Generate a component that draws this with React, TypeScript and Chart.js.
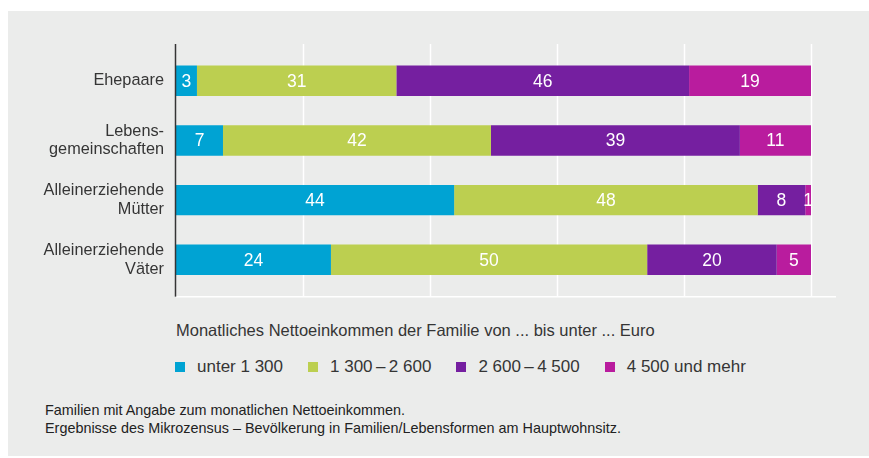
import React, { useEffect, useRef } from "react";
import { Chart, registerables } from "chart.js";

Chart.register(...registerables);

const categories: (string | string[])[] = [
  "Ehepaare",
  ["Lebens-", "gemeinschaften"],
  ["Alleinerziehende", "Mütter"],
  ["Alleinerziehende", "Väter"],
];

const seriesNames = ["unter 1 300", "1 300\u2009\u2013\u20092 600", "2 600\u2009\u2013\u20094 500", "4 500 und mehr"];
const seriesColors = ["#00a3d3", "#bccf50", "#751fa0", "#b91c9e"];

const under1300 = [3.3, 7.4, 43.8, 24.4];
const from1300to2600 = [31.4, 42.2, 47.8, 49.8];
const from2600to4500 = [46.1, 39.2, 7.5, 20.4];
const over4500 = [19.2, 11.2, 0.9, 5.4];

const xTicks = [0, 20, 40, 60, 80, 100];

const legendTitle = "Monatliches Nettoeinkommen der Familie von ... bis unter ... Euro";
const footnotes = [
  "Familien mit Angabe zum monatlichen Nettoeinkommen.",
  "Ergebnisse des Mikrozensus \u2013 Bevölkerung in Familien/Lebensformen am Hauptwohnsitz.",
];

const FONT = "'Liberation Sans', Arial, Helvetica, sans-serif";
const TEXT = "#353535";
const BG = "#ebeceb";

const framePlugin = {
  id: "frame",
  beforeDatasetsDraw(chart: any) {
    const { ctx, chartArea } = chart;
    const xs = chart.scales.x;
    const ext = 7;
    ctx.save();
    ctx.strokeStyle = "#ffffff";
    ctx.lineWidth = 1.5;
    xTicks.forEach((t) => {
      if (t === 0) return;
      const px = Math.round(xs.getPixelForValue(t)) + 0.5;
      ctx.beginPath();
      ctx.moveTo(px, chartArea.top - ext);
      ctx.lineTo(px, chartArea.bottom + ext);
      ctx.stroke();
    });
    ctx.beginPath();
    ctx.moveTo(chartArea.left, chartArea.bottom + ext);
    ctx.lineTo(chartArea.right + 25, chartArea.bottom + ext);
    ctx.stroke();
    ctx.restore();
  },
  afterDatasetsDraw(chart: any) {
    const { ctx, chartArea } = chart;
    const ext = 7;
    ctx.save();
    ctx.font = `17.5px ${FONT}`;
    ctx.fillStyle = "#ffffff";
    ctx.textAlign = "center";
    ctx.textBaseline = "middle";
    chart.data.datasets.forEach((ds: any, di: number) => {
      const meta = chart.getDatasetMeta(di);
      meta.data.forEach((bar: any, i: number) => {
        const v = ds.data[i];
        const cx = (bar.x + bar.base) / 2;
        ctx.fillText(String(Math.round(v)), cx, bar.y + 1);
      });
    });
    ctx.strokeStyle = "#353535";
    ctx.lineWidth = 1.5;
    ctx.beginPath();
    ctx.moveTo(chartArea.left - 0.5, chartArea.top - ext);
    ctx.lineTo(chartArea.left - 0.5, chartArea.bottom + ext);
    ctx.stroke();
    ctx.restore();
  },
};

export default function App() {
  const canvasRef = useRef<HTMLCanvasElement | null>(null);

  useEffect(() => {
    if (!canvasRef.current) return;
    const values = [under1300, from1300to2600, from2600to4500, over4500];
    const chart = new Chart(canvasRef.current, {
      type: "bar",
      data: {
        labels: categories,
        datasets: values.map((d, i) => ({
          label: seriesNames[i],
          data: d,
          backgroundColor: seriesColors[i],
          borderWidth: 0,
          categoryPercentage: 1,
          barPercentage: 0.51,
        })),
      },
      options: {
        indexAxis: "y",
        animation: false,
        responsive: true,
        maintainAspectRatio: false,
        layout: { padding: { left: 0, right: 58, top: 40, bottom: 17 } },
        plugins: {
          legend: { display: false },
          tooltip: { enabled: false },
          title: { display: false },
        },
        scales: {
          x: {
            display: false,
            stacked: true,
            min: 0,
            max: 100,
          },
          y: {
            stacked: true,
            grid: { display: false, drawTicks: false },
            border: { display: false },
            ticks: {
              padding: 12,
              color: TEXT,
              font: { family: FONT, size: 16.3, lineHeight: 1.15 },
            },
            afterFit(scale: any) {
              scale.width = 168;
            },
          },
        },
      },
      plugins: [framePlugin],
    } as any);
    return () => chart.destroy();
  }, []);

  return (
    <div
      style={{
        position: "fixed",
        left: 8,
        top: 11,
        width: 861,
        height: 445,
        background: BG,
        fontFamily: FONT,
        color: TEXT,
      }}
    >
      <div style={{ position: "absolute", left: 0, top: 0, width: 861, height: 300 }}>
        <canvas ref={canvasRef} />
      </div>
      <div
        style={{
          position: "absolute",
          left: 168,
          top: 309,
          fontSize: 16.5,
          lineHeight: "20px",
          whiteSpace: "nowrap",
        }}
      >
        {legendTitle}
      </div>
      <div
        style={{
          position: "absolute",
          left: 167,
          top: 346,
          display: "flex",
          alignItems: "center",
          fontSize: 17,
          lineHeight: "20px",
          whiteSpace: "nowrap",
        }}
      >
        {seriesNames.map((n, i) => (
          <div key={i} style={{ display: "flex", alignItems: "center", marginRight: 25 }}>
            <span
              style={{
                display: "inline-block",
                width: 10,
                height: 10,
                background: seriesColors[i],
                marginRight: 12,
              }}
            />
            <span>{n}</span>
          </div>
        ))}
      </div>
      <div
        style={{
          position: "absolute",
          left: 37,
          top: 390,
          fontSize: 14.4,
          lineHeight: "18px",
          whiteSpace: "nowrap",
          color: "#222",
        }}
      >
        {footnotes.map((f, i) => (
          <div key={i}>{f}</div>
        ))}
      </div>
    </div>
  );
}
